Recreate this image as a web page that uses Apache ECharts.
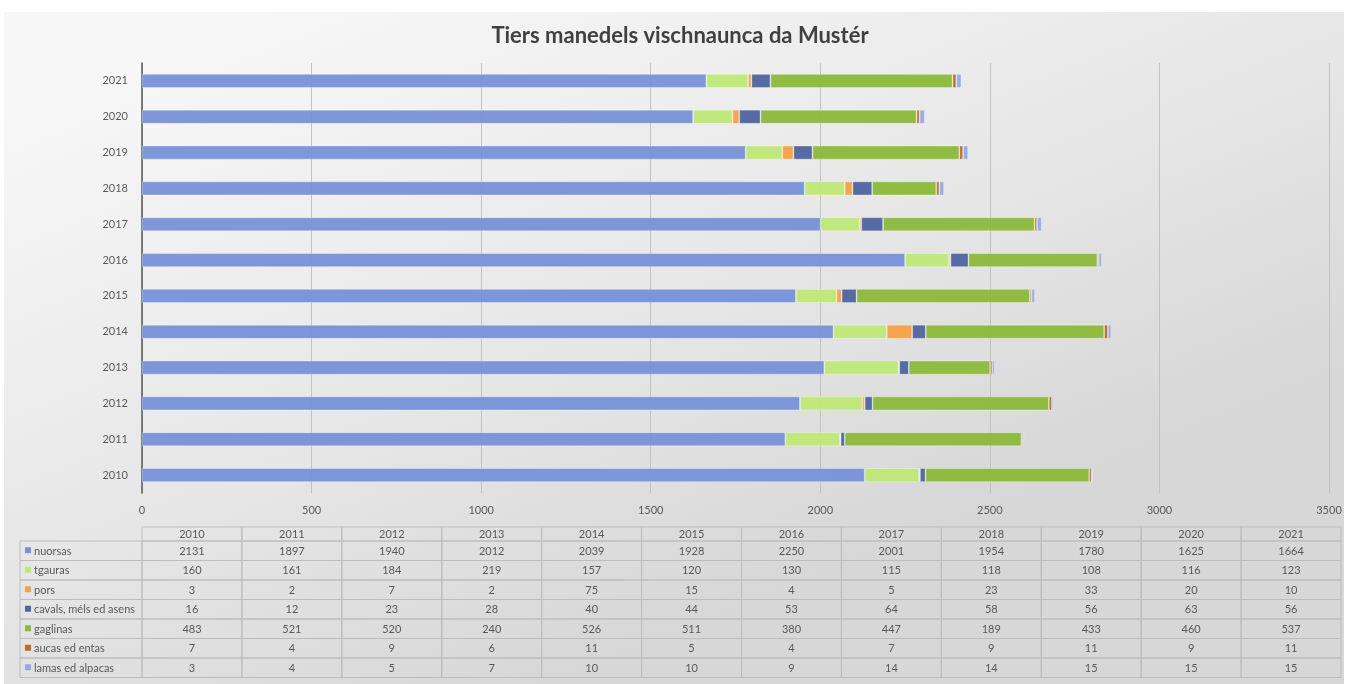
<!DOCTYPE html>
<html>
<head>
<meta charset="utf-8">
<script src="https://cdn.jsdelivr.net/npm/echarts@6/dist/echarts.min.js"></script>
<style>
html,body{margin:0;padding:0;background:#fff;}
#c{width:1348px;height:684px;}
</style>
</head>
<body>
<div id="c"></div>
<script>
const years = ['2010','2011','2012','2013','2014','2015','2016','2017','2018','2019','2020','2021'];
const seriesNames = ['nuorsas','tgauras','pors','cavals, méls ed asens','gaglinas','aucas ed entas','lamas ed alpacas'];
const nuorsas = [2131,1897,1940,2012,2039,1928,2250,2001,1954,1780,1625,1664];
const tgauras = [160,161,184,219,157,120,130,115,118,108,116,123];
const pors = [3,2,7,2,75,15,4,5,23,33,20,10];
const cavals = [16,12,23,28,40,44,53,64,58,56,63,56];
const gaglinas = [483,521,520,240,526,511,380,447,189,433,460,537];
const aucas = [7,4,9,6,11,5,4,7,9,11,9,11];
const lamas = [3,4,5,7,10,10,9,14,14,15,15,15];
const colors = ['#7791d8','#bee876','#f9a046','#4e63a0','#8bb93a','#bd6b22','#95aae6'];

const allData = [nuorsas,tgauras,pors,cavals,gaglinas,aucas,lamas];
const font = 'Lato, "Open Sans", sans-serif';
const txt = '#595959';

const chart = echarts.init(document.getElementById('c'));

// table graphic
const tL = 20, lR = 142, tR = 1341, colW = (tR - lR) / years.length;
const hTop = 527, hH = 14, rowH = 19.5;
const g = [];
g.push({type:'rect', silent:true, z:-10, shape:{x:4,y:12,width:1340,height:672},
  style:{fill:new echarts.graphic.LinearGradient(0.2,0,0.4,1,[{offset:0,color:'#f7f7f7'},{offset:0.6,color:'#e6e6e6'},{offset:1,color:'#d7d7d7'}])}});
const stroke = '#bdbdbd';
years.forEach((y,i)=>{
  g.push({type:'rect', silent:true, shape:{x:lR+i*colW, y:hTop, width:colW, height:hH}, style:{fill:'none', stroke:stroke, lineWidth:1}});
  g.push({type:'text', silent:true, x:lR+i*colW+colW/2, y:hTop+hH/2+0.5, style:{text:y, fill:txt, font:'11px '+font, align:'center', verticalAlign:'middle'}});
});
seriesNames.forEach((n,r)=>{
  const yy = hTop + hH + r*rowH;
  g.push({type:'rect', silent:true, shape:{x:tL, y:yy, width:lR-tL, height:rowH}, style:{fill:'none', stroke:stroke, lineWidth:1}});
  g.push({type:'rect', silent:true, shape:{x:tL+5, y:yy+rowH/2-3.5, width:6, height:6}, style:{fill:colors[r]}});
  g.push({type:'text', silent:true, x:tL+14, y:yy+rowH/2+0.5, style:{text:n, fill:txt, font:'11px '+font, align:'left', verticalAlign:'middle'}});
  allData[r].forEach((v,i)=>{
    g.push({type:'rect', silent:true, shape:{x:lR+i*colW, y:yy, width:colW, height:rowH}, style:{fill:'none', stroke:stroke, lineWidth:1}});
    g.push({type:'text', silent:true, x:lR+i*colW+colW/2, y:yy+rowH/2+0.5, style:{text:String(v), fill:txt, font:'11px '+font, align:'center', verticalAlign:'middle'}});
  });
});

chart.setOption({
  animation:false,
  backgroundColor:'transparent',
  title:{text:'Tiers manedels vischnaunca da Mustér', left:675, textAlign:'center', top:20,
    textStyle:{fontFamily:font, fontSize:22, fontWeight:'bold', color:'#404040'}},
  grid:{left:142, right:19, top:63, bottom:191, containLabel:false},
  xAxis:{type:'value', min:0, max:3500, interval:500,
    axisLine:{show:false}, axisTick:{show:false},
    axisLabel:{color:txt, fontFamily:font, fontSize:11, margin:12, formatter:v=>String(v)},
    splitLine:{show:true, lineStyle:{color:'#c2c2c2', width:1}}},
  yAxis:{type:'category', data:years,
    axisLine:{show:true, lineStyle:{color:'#595959', width:1.5}}, axisTick:{show:false},
    axisLabel:{color:txt, fontFamily:font, fontSize:11, margin:14}},
  series: seriesNames.map((n,i)=>({
    name:n, type:'bar', stack:'total', data:allData[i], barWidth:14,
    itemStyle:{color:colors[i], opacity:0.95, borderColor:'rgba(255,255,255,0.45)', borderWidth:0.8}
  })),
  graphic:g
});
</script>
</body>
</html>
